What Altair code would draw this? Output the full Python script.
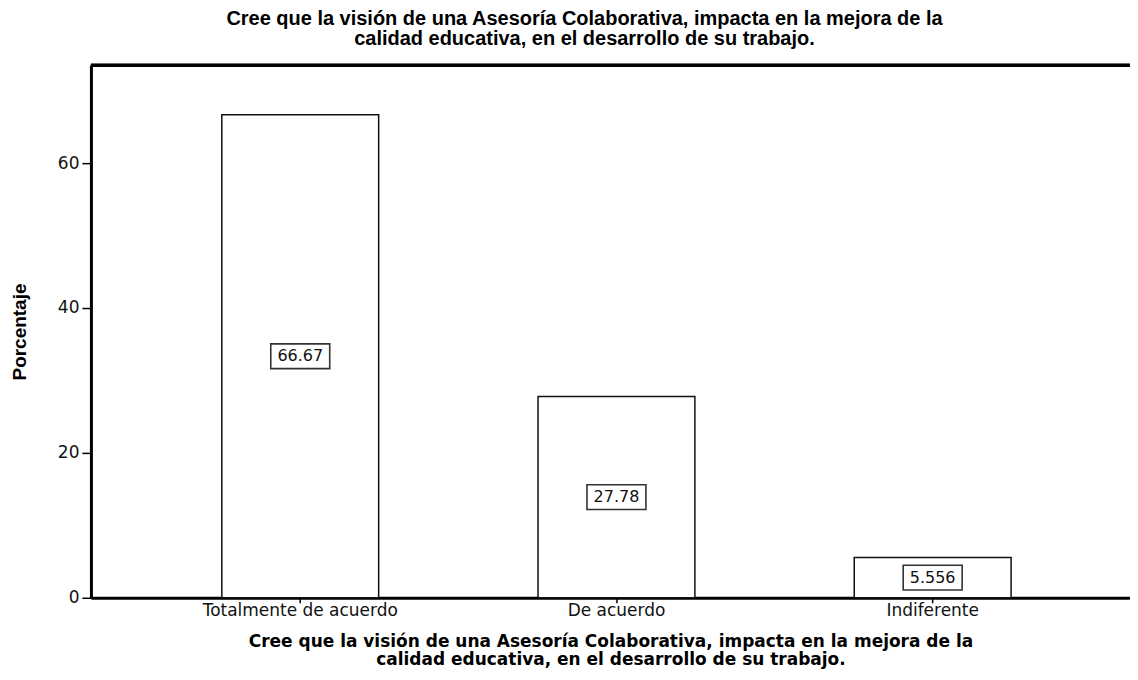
import altair as alt
import pandas as pd

categories = ["Totalmente de acuerdo", "De acuerdo", "Indiferente"]
values = [66.67, 27.78, 5.556]
labels = ["66.67", "27.78", "5.556"]
y_ticks = [0, 20, 40, 60]

title_lines = [
    "Cree que la visión de una Asesoría Colaborativa, impacta en la mejora de la",
    "calidad educativa, en el desarrollo de su trabajo.",
]

df = pd.DataFrame({"cat": categories, "val": values, "lab": labels})

W, H = 1040, 533

xscale = alt.Scale(domain=categories, paddingInner=0.504, paddingOuter=0.395, align=0.524)
yscale = alt.Scale(domain=[0, 73.5], nice=False, zero=True)

x_enc = alt.X(
    "cat:N",
    scale=xscale,
    sort=categories,
    axis=alt.Axis(
        title=title_lines,
        titleFont="DejaVu Sans",
        titleFontWeight="bold",
        titleFontSize=17,
        titleLineHeight=18,
        titleColor="#000000",
        titlePadding=15,
        labelFont="DejaVu Sans",
        labelFontSize=17,
        labelColor="#111111",
        labelAngle=0,
        labelPadding=0,
        labelLimit=0,
        tickSize=5,
        tickColor="#000000",
        tickWidth=1.5,
        domainColor="#000000",
        domainWidth=3,
        grid=False,
    ),
)

y_axis = alt.Axis(
    title="Porcentaje",
    titleFont="Liberation Sans",
    titleFontWeight="bold",
    titleFontSize=19,
    titleColor="#000000",
    titlePadding=28,
    values=y_ticks,
    labelFont="DejaVu Sans",
    labelFontSize=17,
    labelColor="#111111",
    labelPadding=3,
    tickSize=9,
    tickColor="#000000",
    tickWidth=1.5,
    domainColor="#000000",
    domainWidth=3,
    grid=False,
)

base = alt.Chart(df)

bars = base.mark_bar(fill="white", stroke="#111111", strokeWidth=1.5).encode(
    x=x_enc,
    y=alt.Y("val:Q", scale=yscale, axis=y_axis),
)

half = base.transform_calculate(mid="datum.val / 2")

boxes = half.mark_point(
    shape="M-1,-0.42L1,-0.42L1,0.42L-1,0.42Z",
    size=59 * 59,
    filled=False,
    stroke="#333333",
    strokeWidth=1.6,
    fill="white",
    opacity=1,
).encode(
    x=alt.X("cat:N", scale=xscale, sort=categories),
    y=alt.Y("mid:Q", scale=yscale),
)

texts = half.mark_text(
    font="DejaVu Sans", fontSize=16, color="#111111", baseline="middle", align="center"
).encode(
    x=alt.X("cat:N", scale=xscale, sort=categories),
    y=alt.Y("mid:Q", scale=yscale),
    text="lab:N",
)

top_border = alt.Chart(df).mark_rule(color="#000000", strokeWidth=3).encode(
    x=alt.value(0), x2=alt.value(W), y=alt.value(0)
)

chart = (
    alt.layer(bars, boxes, texts, top_border)
    .properties(
        width=W,
        height=H,
        title=alt.TitleParams(
            text=title_lines,
            font="Liberation Sans",
            fontWeight="bold",
            fontSize=20,
            lineHeight=20,
            color="#000000",
            anchor="middle",
            frame="group",
            dx=-26,
            offset=15,
        ),
        autosize=alt.AutoSizeParams(type="none"),
        padding={"left": 83, "top": 57, "right": 0, "bottom": 74},
    )
    .configure_view(stroke=None)
    .configure(background="white")
)

chart.save("out.html", embed_options={"renderer": "svg", "actions": False})
